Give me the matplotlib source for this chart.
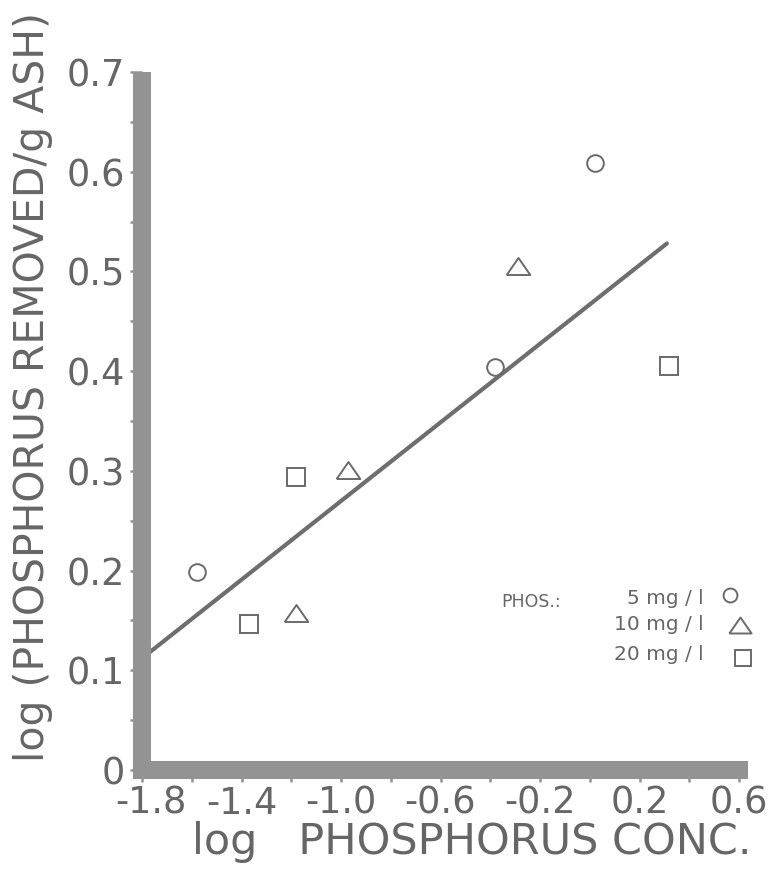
import numpy as np
import matplotlib
matplotlib.use("Agg")
import matplotlib.pyplot as plt
import matplotlib.transforms as mtransforms
from matplotlib.ticker import FixedLocator, MultipleLocator

# Data (log units)
circle_x = [-1.58, -0.38, 0.02]          # PHOS. 5 mg/l
circle_y = [0.199, 0.404, 0.609]
triangle_x = [-1.18, -0.97, -0.29]       # PHOS. 10 mg/l
triangle_y = [0.157, 0.301, 0.505]
square_x = [-1.37, -1.18, 0.32]          # PHOS. 20 mg/l
square_y = [0.146, 0.294, 0.405]

fit_x = [-1.8, 0.31]
fit_y = [0.112, 0.528]

xticks = [-1.8, -1.4, -1.0, -0.6, -0.2, 0.2, 0.6]
xtick_labels = ["-1.8", "-1.4", "-1.0", "-0.6", "-0.2", "0.2", "0.6"]
yticks = [0, 0.1, 0.2, 0.3, 0.4, 0.5, 0.6, 0.7]
ytick_labels = ["0", "0.1", "0.2", "0.3", "0.4", "0.5", "0.6", "0.7"]
legend_labels = ["5 mg / l", "10 mg / l", "20 mg / l"]

INK = "#666666"
BAND = "#939393"
FONT = "DejaVu Sans"

W, H = 778, 873
fig = plt.figure(figsize=(W / 100, H / 100), dpi=100)
ax = fig.add_axes([142 / W, 1 - 770 / H, (739 - 142) / W, (770 - 72) / H])

# fitted line, its start hidden under the thick axis band
ax.plot(fit_x, fit_y, color="#6e6e6e", lw=3, solid_capstyle="round", zorder=2)

mk = dict(linestyle="none", markerfacecolor="none", markeredgecolor="#6a6a6a",
          markeredgewidth=1.4, zorder=3)
tri = [(-1, -0.72), (1, -0.72), (0, 0.72), (-1, -0.72)]
ax.plot(circle_x, circle_y, marker="o", markersize=12, **mk)
ax.plot(triangle_x, triangle_y, marker=tri, markersize=17, **mk)
ax.plot(square_x, square_y, marker="s", markersize=13, **mk)

ax.set_xlim(-1.8, 0.6)
ax.set_ylim(0, 0.7)

for side in ("top", "right"):
    ax.spines[side].set_visible(False)
for side in ("left", "bottom"):
    ax.spines[side].set_linewidth(13)
    ax.spines[side].set_color(BAND)
ax.spines["left"].set_capstyle("butt")
ax.spines["bottom"].set_capstyle("projecting")

ax.xaxis.set_major_locator(FixedLocator(xticks))
ax.xaxis.set_minor_locator(MultipleLocator(0.2))
ax.yaxis.set_major_locator(FixedLocator(yticks))
ax.yaxis.set_minor_locator(MultipleLocator(0.05))
ax.set_xticklabels(xtick_labels)
ax.set_yticklabels(ytick_labels)

ax.tick_params(which="both", direction="out", length=8.5, width=1.8, color=BAND)
ax.tick_params(axis="x", pad=2)
ax.tick_params(axis="y", pad=3.5)
for lab in ax.get_xticklabels() + ax.get_yticklabels():
    lab.set_fontsize(26.5)
    lab.set_family(FONT)
    lab.set_color(INK)

# the first x label sits a little right of its tick, clear of the "0"
first = ax.get_xticklabels()[0]
first.set_transform(first.get_transform() +
                    mtransforms.ScaledTranslation(9 / 100, 0, fig.dpi_scale_trans))

ax.set_xlabel("log   PHOSPHORUS CONC.", fontsize=31, family=FONT, color=INK,
              va="center", ha="center")
ax.xaxis.set_label_coords((472 - 142) / 597, (770 - 842) / 698)
ax.set_ylabel("log (PHOSPHORUS REMOVED/g ASH)", fontsize=29.5, family=FONT,
              color=INK, va="center", ha="center")
ax.yaxis.set_label_coords((33 - 142) / 597, (770 - 387) / 698)

# hand-lettered key
ax.text(0.601, 0.241, "PHOS.:", transform=ax.transAxes, fontsize=12.5,
        family=FONT, color=INK, ha="left", va="center")
key_y = [0.246, 0.208, 0.165]
for lab, yy in zip(legend_labels, key_y):
    ax.text(0.940, yy, lab, transform=ax.transAxes, fontsize=14.5,
            family=FONT, color=INK, ha="right", va="center")
ax.plot([0.985], [0.251], marker="o", markersize=10, transform=ax.transAxes,
        clip_on=False, **mk)
ax.plot([1.002], [0.208], marker=tri, markersize=16, transform=ax.transAxes,
        clip_on=False, **mk)
ax.plot([1.007], [0.160], marker="s", markersize=11, transform=ax.transAxes,
        clip_on=False, **mk)

fig.savefig("out.png", dpi=100)
